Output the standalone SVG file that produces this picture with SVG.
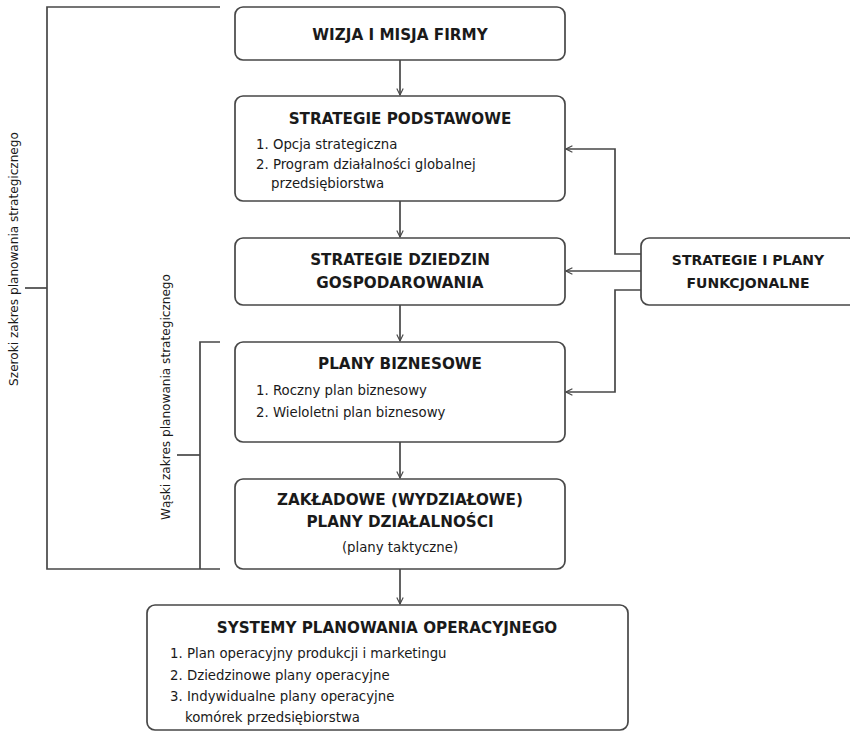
<svg xmlns="http://www.w3.org/2000/svg" width="850" height="731" viewBox="0 0 850 731">
  <style>
    .box { fill: #ffffff; stroke: #474747; stroke-width: 1.7; }
    .line { fill: none; stroke: #474747; stroke-width: 1.7; }
    .title { font-family: "DejaVu Sans", "Liberation Sans", sans-serif; font-weight: bold; font-size: 15.2px; fill: #1a1a1a; text-anchor: middle; }
    .stitle { font-family: "DejaVu Sans", "Liberation Sans", sans-serif; font-weight: bold; font-size: 14px; fill: #1a1a1a; text-anchor: middle; }
    .item { font-family: "DejaVu Sans", "Liberation Sans", sans-serif; font-size: 13.3px; fill: #1a1a1a; }
    .side { font-family: "DejaVu Sans", "Liberation Sans", sans-serif; font-size: 12.1px; fill: #1a1a1a; text-anchor: middle; }
  </style>
  <defs>
    <marker id="arrow" viewBox="0 0 10 10" refX="9" refY="5" markerWidth="8" markerHeight="8" orient="auto" markerUnits="userSpaceOnUse">
      <path d="M1,1 L9,5 L1,9" fill="none" stroke="#474747" stroke-width="1.4"/>
    </marker>
  </defs>

  <!-- bracket lines for scope of strategic planning -->
  <g id="brackets">
    <path class="line" d="M220,7 H47 V569 H220"/>
    <path class="line" d="M25,288 H47"/>
    <path class="line" d="M220,342 H200 V569"/>
    <path class="line" d="M177,455 H200"/>
    <text class="side" transform="translate(18,259) rotate(-90)">Szeroki zakres planowania strategicznego</text>
    <text class="side" transform="translate(170,397) rotate(-90)">Wąski zakres planowania strategicznego</text>
  </g>

  <g id="connectors">
    <path class="line" d="M400,60 V95" marker-end="url(#arrow)"/>
    <path class="line" d="M400,201 V237" marker-end="url(#arrow)"/>
    <path class="line" d="M400,305 V341" marker-end="url(#arrow)"/>
    <path class="line" d="M400,442 V478" marker-end="url(#arrow)"/>
    <path class="line" d="M400,569 V604" marker-end="url(#arrow)"/>
    <path class="line" d="M641,254 H615 V149 H566" marker-end="url(#arrow)"/>
    <path class="line" d="M641,271 H566" marker-end="url(#arrow)"/>
    <path class="line" d="M641,290 H615 V392 H566" marker-end="url(#arrow)"/>
  </g>

  <g id="wizja">
    <rect class="box" x="235" y="7" width="330" height="53" rx="8"/>
    <text class="title" x="400" y="40">WIZJA I MISJA FIRMY</text>
  </g>

  <g id="strategie-podstawowe">
    <rect class="box" x="235" y="96" width="330" height="105" rx="8"/>
    <text class="title" x="400" y="124">STRATEGIE PODSTAWOWE</text>
    <text class="item" x="256" y="149">1. Opcja strategiczna</text>
    <text class="item" x="256" y="169">2. Program działalności globalnej</text>
    <text class="item" x="271" y="188">przedsiębiorstwa</text>
  </g>

  <g id="strategie-dziedzin">
    <rect class="box" x="235" y="238" width="330" height="67" rx="8"/>
    <text class="title" x="400" y="265">STRATEGIE DZIEDZIN</text>
    <text class="title" x="400" y="288">GOSPODAROWANIA</text>
  </g>

  <g id="plany-biznesowe">
    <rect class="box" x="235" y="342" width="330" height="100" rx="8"/>
    <text class="title" x="400" y="369">PLANY BIZNESOWE</text>
    <text class="item" x="256" y="395">1. Roczny plan biznesowy</text>
    <text class="item" x="256" y="417">2. Wieloletni plan biznesowy</text>
  </g>

  <g id="plany-dzialalnosci">
    <rect class="box" x="235" y="479" width="330" height="90" rx="8"/>
    <text class="title" x="400" y="505">ZAKŁADOWE (WYDZIAŁOWE)</text>
    <text class="title" x="400" y="527">PLANY DZIAŁALNOŚCI</text>
    <text class="item" x="400" y="552" text-anchor="middle">(plany taktyczne)</text>
  </g>

  <g id="systemy-operacyjne">
    <rect class="box" x="147" y="605" width="481" height="125" rx="8"/>
    <text class="title" x="387" y="633">SYSTEMY PLANOWANIA OPERACYJNEGO</text>
    <text class="item" x="170" y="658">1. Plan operacyjny produkcji i marketingu</text>
    <text class="item" x="170" y="680">2. Dziedzinowe plany operacyjne</text>
    <text class="item" x="170" y="701">3. Indywidualne plany operacyjne</text>
    <text class="item" x="185" y="722">komórek przedsiębiorstwa</text>
  </g>

  <g id="funkcjonalne">
    <rect class="box" x="641" y="238" width="216" height="67" rx="8"/>
    <text class="stitle" x="748" y="265">STRATEGIE I PLANY</text>
    <text class="stitle" x="748" y="288">FUNKCJONALNE</text>
  </g>
</svg>
